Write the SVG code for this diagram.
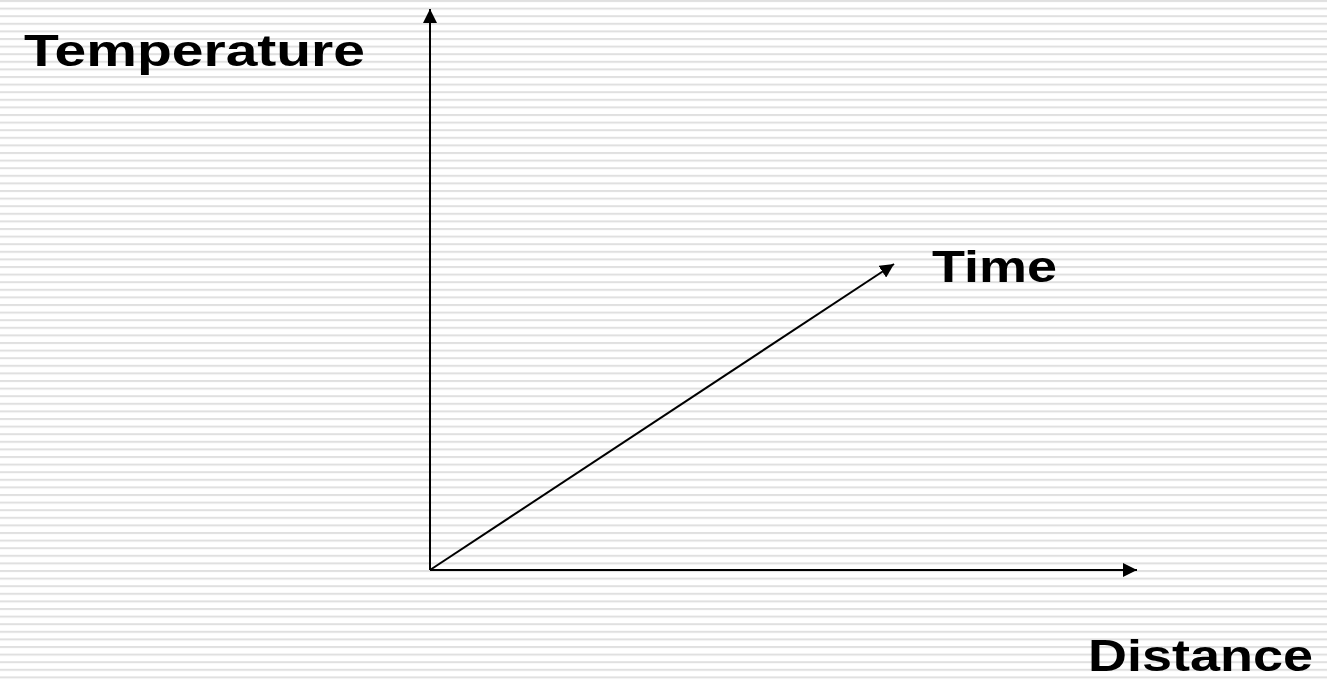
<svg xmlns="http://www.w3.org/2000/svg" width="1327" height="680" viewBox="0 0 1327 680">
<style>
.lbl{font-family:"Liberation Sans",Arial,sans-serif;font-weight:bold;font-size:45px;fill:#000}
.ax{stroke:#000;stroke-width:2;fill:none}
</style>
<defs>
<pattern id="stripes" x="0" y="0" width="10" height="7.6" patternUnits="userSpaceOnUse">
<rect x="0" y="0" width="10" height="7.6" fill="#ffffff"/>
<rect x="0" y="0" width="10" height="2" fill="#e0e0e0"/>
</pattern>
<marker id="arr" viewBox="0 0 14 14" refX="14" refY="7" markerWidth="14" markerHeight="14" markerUnits="userSpaceOnUse" orient="auto">
<path d="M0,0 L14,7 L0,14 Z" fill="#000"/>
</marker>
</defs>
<rect x="0" y="0" width="1327" height="680" fill="url(#stripes)"/>
<g id="connectors">
<line class="ax" x1="430" y1="570" x2="430" y2="9" marker-end="url(#arr)"/>
<line class="ax" x1="430" y1="570" x2="1137" y2="570" marker-end="url(#arr)"/>
<line class="ax" x1="430" y1="570" x2="894" y2="264" marker-end="url(#arr)"/>
</g>
<g id="temperature"><text class="lbl" x="24" y="66" textLength="341" lengthAdjust="spacingAndGlyphs">Temperature</text></g>
<g id="time"><text class="lbl" x="932" y="282" textLength="125" lengthAdjust="spacingAndGlyphs">Time</text></g>
<g id="distance"><text class="lbl" x="1088" y="671" textLength="225" lengthAdjust="spacingAndGlyphs">Distance</text></g>
</svg>
